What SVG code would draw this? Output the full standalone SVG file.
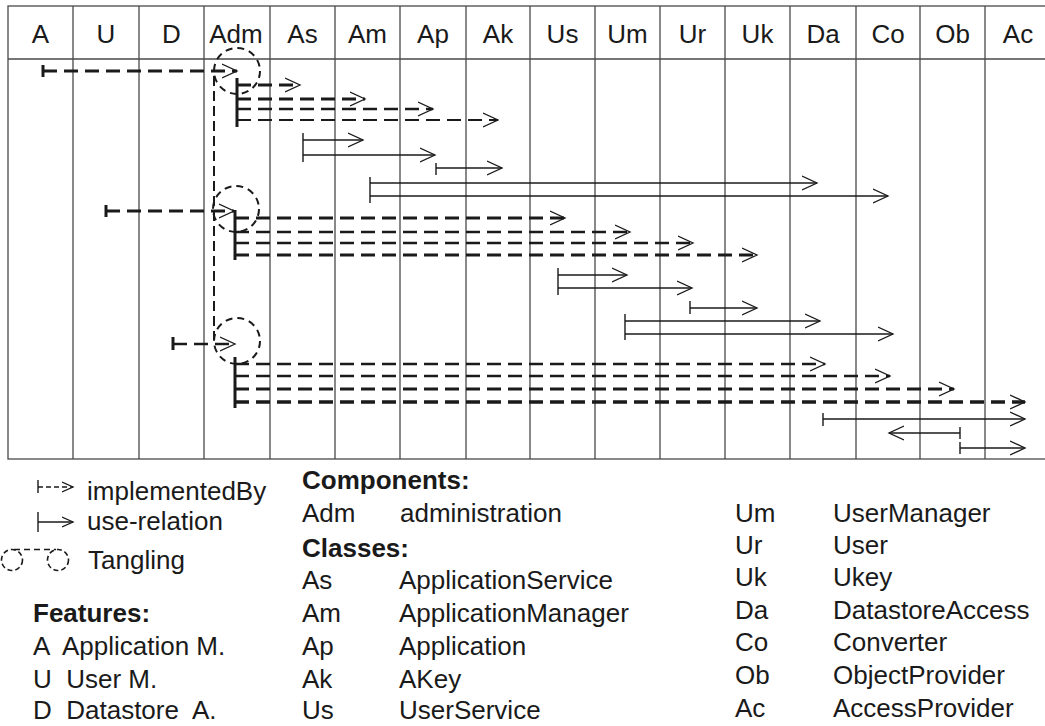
<svg xmlns="http://www.w3.org/2000/svg" width="1045" height="726" viewBox="0 0 1045 726">
<style>
.grid{stroke:#4a4a4a;stroke-width:1.3;fill:none}
.hdr{font-family:"Liberation Sans",Arial,sans-serif;font-size:26px;fill:#1a1a1a;text-anchor:middle}
.t{font-family:"Liberation Sans",Arial,sans-serif;font-size:26px;fill:#1a1a1a}
.b{font-weight:bold}
.impl{stroke:#1a1a1a;fill:none;stroke-width:3;stroke-dasharray:14 7}
.m{stroke-width:2.4}
.th{stroke-width:2}
.use{stroke:#1a1a1a;fill:none;stroke-width:1.3}
.tick{stroke:#1a1a1a;stroke-width:3}
.tk{stroke:#1a1a1a;stroke-width:1.4}
.circ{fill:none;stroke:#1a1a1a;stroke-width:2;stroke-dasharray:7 5}
.vcon{fill:none;stroke:#1a1a1a;stroke-width:2;stroke-dasharray:10 5}
</style>
<defs>
<marker id="ah" markerUnits="userSpaceOnUse" markerWidth="20" markerHeight="18" refX="15" refY="8" orient="auto"><path d="M0,1 L15,8 L0,15" fill="none" stroke="#1a1a1a" stroke-width="1.3"/></marker>
<marker id="ahs" markerUnits="userSpaceOnUse" markerWidth="14" markerHeight="14" refX="11" refY="6" orient="auto"><path d="M0,1 L11,6 L0,11" fill="none" stroke="#1a1a1a" stroke-width="1.3"/></marker>
</defs>
<g id="table">
<rect class="grid" x="8" y="6" width="1050" height="453"/>
<path class="grid" d="M8,59H1058M73,6V459M139,6V459M204,6V459M270,6V459M335,6V459M400,6V459M466,6V459M530,6V459M595,6V459M660,6V459M725,6V459M790,6V459M856,6V459M920,6V459M985,6V459"/>
<text class="hdr" x="40.5" y="43">A</text>
<text class="hdr" x="106" y="43">U</text>
<text class="hdr" x="171.5" y="43">D</text>
<text class="hdr" x="236" y="43">Adm</text>
<text class="hdr" x="302.5" y="43">As</text>
<text class="hdr" x="367.5" y="43">Am</text>
<text class="hdr" x="433" y="43">Ap</text>
<text class="hdr" x="498" y="43">Ak</text>
<text class="hdr" x="562.5" y="43">Us</text>
<text class="hdr" x="627.5" y="43">Um</text>
<text class="hdr" x="692.5" y="43">Ur</text>
<text class="hdr" x="757.5" y="43">Uk</text>
<text class="hdr" x="823" y="43">Da</text>
<text class="hdr" x="888" y="43">Co</text>
<text class="hdr" x="952.5" y="43">Ob</text>
<text class="hdr" x="1018" y="43">Ac</text>
</g>
<g id="tangling">
<circle class="circ" cx="237" cy="71" r="23"/>
<circle class="circ" cx="236" cy="209" r="23"/>
<circle class="circ" cx="237" cy="341" r="23"/>
</g>
<g id="connectors">
<path class="vcon" d="M214,76V340"/>
<!-- Feature A -->
<path class="tick" d="M43,65V77"/>
<path class="impl" d="M43,71H237" marker-end="url(#ah)"/>
<path class="tick" d="M237,78V127"/>
<path class="impl" d="M237,85H300" marker-end="url(#ah)"/>
<path class="impl" d="M237,99H365" marker-end="url(#ah)"/>
<path class="impl m" d="M237,109H433" marker-end="url(#ah)"/>
<path class="impl th" d="M237,120H498" marker-end="url(#ah)"/>
<path class="tk" d="M303,133V162M436,163V175M370,177V203"/>
<path class="use" d="M303,140H363" marker-end="url(#ah)"/>
<path class="use" d="M303,155H435" marker-end="url(#ah)"/>
<path class="use" d="M436,168H502" marker-end="url(#ah)"/>
<path class="use" d="M370,183H817" marker-end="url(#ah)"/>
<path class="use" d="M370,196H888" marker-end="url(#ah)"/>
<!-- Feature U -->
<path class="tick" d="M106,205V217"/>
<path class="impl" d="M106,211H234" marker-end="url(#ah)"/>
<path class="tick" d="M235,210V260"/>
<path class="impl" d="M235,218H565" marker-end="url(#ah)"/>
<path class="impl m" d="M235,232H630" marker-end="url(#ah)"/>
<path class="impl m" d="M235,243H693" marker-end="url(#ah)"/>
<path class="impl" d="M235,255H757" marker-end="url(#ah)"/>
<path class="tk" d="M558,268V295M690,301V314M625,314V340"/>
<path class="use" d="M558,275H627" marker-end="url(#ah)"/>
<path class="use" d="M558,288H692" marker-end="url(#ah)"/>
<path class="use" d="M690,308H757" marker-end="url(#ah)"/>
<path class="use" d="M625,321H820" marker-end="url(#ah)"/>
<path class="use" d="M625,334H893" marker-end="url(#ah)"/>
<!-- Feature D -->
<path class="tick" d="M173,337V350"/>
<path class="impl m" d="M173,344H235" marker-end="url(#ah)"/>
<path class="tick" d="M235,357V408"/>
<path class="impl m" d="M235,364H825" marker-end="url(#ah)"/>
<path class="impl m" d="M235,376H890" marker-end="url(#ah)"/>
<path class="impl" d="M235,389H954" marker-end="url(#ah)"/>
<path class="impl" d="M235,402H1025" marker-end="url(#ah)" style="stroke-width:3.4"/>
<path class="tk" d="M823,413V426M960,427V439M960,442V454"/>
<path class="use" d="M823,419H1025" marker-end="url(#ah)"/>
<path class="use" d="M960,433H889" marker-end="url(#ah)"/>
<path class="use" d="M960,448H1025" marker-end="url(#ah)"/>
</g>
<g id="legend">
<path class="tk" d="M38,480V493"/>
<path class="use" d="M38,487H73" style="stroke-dasharray:5 3" marker-end="url(#ahs)"/>
<text class="t" x="87" y="500">implementedBy</text>
<path class="tk" d="M38,512V532"/>
<path class="use" d="M38,522H73" marker-end="url(#ahs)"/>
<text class="t" x="87" y="530">use-relation</text>
<circle class="circ" cx="12" cy="560" r="10.5" style="stroke-width:1.6;stroke-dasharray:5 3"/>
<circle class="circ" cx="58" cy="560" r="10.5" style="stroke-width:1.6;stroke-dasharray:5 3"/>
<path class="use" d="M14,549.5H56" style="stroke-width:1.6;stroke-dasharray:6 4"/>
<text class="t" x="88" y="569">Tangling</text>
<text class="t b" x="33" y="622">Features:</text>
<text class="t" x="33" y="655" xml:space="preserve">A  Application M.</text>
<text class="t" x="33" y="688" xml:space="preserve">U  User M.</text>
<text class="t" x="33" y="719" xml:space="preserve">D  Datastore  A.</text>
<text class="t b" x="302" y="489">Components:</text>
<text class="t" x="302" y="522">Adm</text><text class="t" x="400" y="522">administration</text>
<text class="t" x="302" y="557" style="font-weight:bold">Classes:</text>
<text class="t" x="302" y="589">As</text><text class="t" x="399" y="589">ApplicationService</text>
<text class="t" x="302" y="622">Am</text><text class="t" x="399" y="622">ApplicationManager</text>
<text class="t" x="302" y="655">Ap</text><text class="t" x="399" y="655">Application</text>
<text class="t" x="302" y="688">Ak</text><text class="t" x="399" y="688">AKey</text>
<text class="t" x="302" y="719">Us</text><text class="t" x="399" y="719">UserService</text>
<text class="t" x="735" y="522">Um</text><text class="t" x="833" y="522">UserManager</text>
<text class="t" x="735" y="554">Ur</text><text class="t" x="833" y="554">User</text>
<text class="t" x="735" y="586">Uk</text><text class="t" x="833" y="586">Ukey</text>
<text class="t" x="735" y="619">Da</text><text class="t" x="833" y="619">DatastoreAccess</text>
<text class="t" x="735" y="651">Co</text><text class="t" x="833" y="651">Converter</text>
<text class="t" x="735" y="684">Ob</text><text class="t" x="833" y="684">ObjectProvider</text>
<text class="t" x="735" y="717">Ac</text><text class="t" x="833" y="717">AccessProvider</text>
</g>
</svg>
